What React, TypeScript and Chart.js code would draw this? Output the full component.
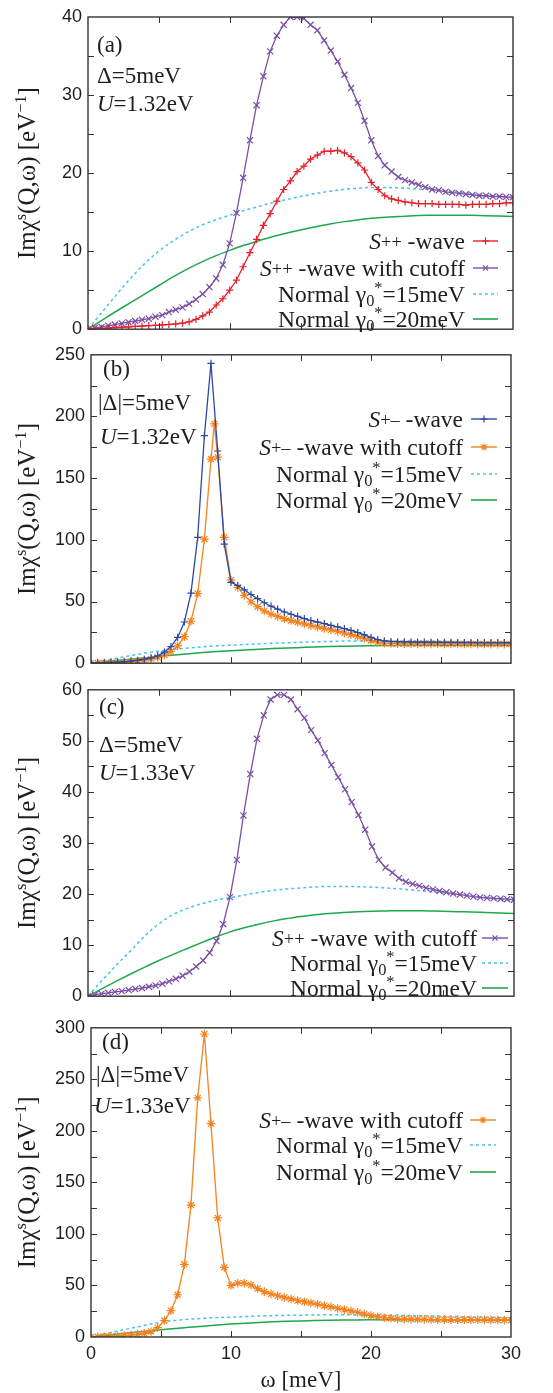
import React, { useEffect, useRef } from "react";
import { Chart, registerables } from "chart.js";

Chart.register(...registerables);

// ---------- data ----------
const omega = [
  0, 0.48, 0.95, 1.43, 1.9, 2.38, 2.86, 3.33, 3.81, 4.29,
  4.76, 5.24, 5.71, 6.19, 6.67, 7.14, 7.62, 8.1, 8.57, 9.05,
  9.52, 10.0, 10.48, 10.95, 11.43, 11.9, 12.38, 12.86, 13.33, 13.81,
  14.29, 14.76, 15.24, 15.71, 16.19, 16.67, 17.14, 17.62, 18.1, 18.57,
  19.05, 19.52, 20.0, 20.48, 20.95, 21.43, 21.9, 22.38, 22.86, 23.33,
  23.81, 24.29, 24.76, 25.24, 25.71, 26.19, 26.67, 27.14, 27.62, 28.1,
  28.57, 29.05, 29.52, 30.0,
];
const omegaNormal = [
  0, 1, 2, 3, 4, 5, 6, 7, 8, 9, 10, 11, 12, 13, 14, 15,
  16, 17, 18, 19, 20, 21, 22, 23, 24, 25, 26, 27, 28, 29, 30,
];
const omegaExtraPeakB = 8.81;

// (a) U = 1.32 eV, S++
const aSpp = [
  0, 0.05, 0.1, 0.15, 0.2, 0.25, 0.3, 0.35, 0.4, 0.45,
  0.5, 0.55, 0.6, 0.68, 0.78, 0.95, 1.25, 1.7, 2.2, 3.1,
  3.9, 5.0, 6.3, 8.0, 9.8, 11.5, 13.3, 14.8, 16.4, 17.9,
  19.0, 20.2, 20.9, 21.8, 22.3, 22.8, 22.8, 22.9, 22.6, 22.1,
  21.3, 20.4, 18.8, 17.9, 17.1, 16.7, 16.5, 16.3, 16.2, 16.1,
  16.1, 16.1, 16.0, 16.0, 16.0, 16.0, 15.9, 16.0, 16.0, 16.0,
  16.1, 16.1, 16.2, 16.2,
];
const aSppCutoff = [
  0, 0.15, 0.3, 0.45, 0.6, 0.75, 0.9, 1.05, 1.2, 1.35,
  1.6, 1.8, 2.2, 2.5, 2.8, 3.25, 3.8, 4.5, 5.4, 6.5,
  8.25, 11.0, 14.9, 19.4, 24.2, 28.7, 32.4, 35.6, 37.6, 39.0,
  40.0, 40.0, 39.8, 39.0, 38.3, 37.0, 35.7, 34.3, 32.6, 30.9,
  29.0, 26.7, 24.2, 22.2, 21.0, 20.2, 19.5, 19.1, 18.8, 18.5,
  18.2, 17.9, 17.8, 17.6, 17.5, 17.4, 17.3, 17.2, 17.1, 17.1,
  17.0, 17.0, 16.95, 16.9,
];
const normalU132G15 = [
  0, 2.2, 4.4, 6.5, 8.4, 10.0, 11.3, 12.4, 13.3, 14.0, 14.6,
  15.2, 15.7, 16.2, 16.6, 17.0, 17.35, 17.65, 17.9, 18.05, 18.15,
  18.15, 18.1, 18.0, 17.9, 17.75, 17.6, 17.4, 17.2, 17.0, 16.8,
];
const normalU132G20 = [
  0, 1.15, 2.3, 3.4, 4.5, 5.6, 6.7, 7.7, 8.6, 9.4, 10.1,
  10.75, 11.3, 11.85, 12.3, 12.7, 13.1, 13.45, 13.75, 14.0, 14.2,
  14.35, 14.45, 14.55, 14.6, 14.6, 14.6, 14.6, 14.55, 14.5, 14.45,
];

// (b) U = 1.32 eV, S+-
const bSpm = [
  0, 0.2, 0.4, 0.6, 0.9, 1.3, 1.8, 2.4, 3.2, 4.3,
  6.0, 9.0, 13.5, 20.9, 33.4, 56.8, 102, 184.5, 243, 172,
  96.5, 65.5, 63, 59.5, 55.7, 52.3, 49.0, 46.2, 43.8, 41.5,
  39.7, 37.9, 36.1, 34.6, 33.3, 32.0, 30.7, 29.4, 28.1, 26.6,
  24.9, 22.9, 20.9, 19.1, 18.1, 17.6, 17.4, 17.3, 17.2, 17.1,
  17.1, 17.0, 17.0, 16.9, 16.9, 16.8, 16.8, 16.8, 16.7, 16.7,
  16.6, 16.6, 16.6, 16.5,
];
// includes one extra point at omegaExtraPeakB (between 8.57 and 9.05)
const bSpmCutoff = [
  0, 0.1, 0.2, 0.4, 0.6, 0.9, 1.3, 1.8, 2.5, 3.5,
  4.8, 6.6, 9.5, 14.0, 21.5, 34.0, 56.5, 100.5, 165.5, 194,
  167, 102, 67.5, 61.5, 55, 49.8, 45.8, 42.4, 39.8, 37.9,
  36.1, 34.6, 33.2, 31.9, 30.6, 29.4, 28.2, 27.0, 25.8, 24.5,
  23.1, 21.7, 20.1, 18.4, 17.0, 16.3, 16.0, 15.9, 15.8, 15.8,
  15.7, 15.7, 15.7, 15.7, 15.6, 15.6, 15.6, 15.6, 15.6, 15.5,
  15.5, 15.5, 15.5, 15.5, 15.5,
];

// (c) U = 1.33 eV, S++
const cSppCutoff = [
  0, 0.3, 0.5, 0.65, 0.85, 1.0, 1.2, 1.4, 1.6, 1.85,
  2.1, 2.45, 2.9, 3.4, 4.0, 4.8, 5.8, 7.0, 8.5, 10.8,
  14.1, 19.4, 26.7, 35.4, 43.5, 50.4, 55.0, 58.1, 59.0, 59.0,
  58.1, 56.2, 54.5, 52.1, 50.1, 47.6, 45.3, 42.9, 40.5, 38.0,
  35.5, 32.6, 29.3, 26.7, 25.2, 24.2, 23.1, 22.4, 22.0, 21.6,
  21.2, 20.9, 20.6, 20.35, 20.1, 19.9, 19.7, 19.5, 19.35, 19.25,
  19.15, 19.1, 19.0, 18.9,
];
const normalU133G15 = [
  0, 3.1, 6.1, 8.9, 11.8, 14.2, 16.0, 17.2, 18.1, 18.8, 19.3,
  19.8, 20.3, 20.7, 21.0, 21.2, 21.4, 21.5, 21.5, 21.45, 21.35,
  21.2, 21.0, 20.75, 20.5, 20.2, 19.9, 19.6, 19.3, 19.0, 18.6,
];
const normalU133G20 = [
  0, 1.5, 2.95, 4.35, 5.7, 7.0, 8.2, 9.35, 10.5, 11.6, 12.6,
  13.4, 14.1, 14.7, 15.2, 15.6, 15.95, 16.2, 16.4, 16.55, 16.65,
  16.7, 16.75, 16.75, 16.7, 16.65, 16.55, 16.5, 16.4, 16.3, 16.2,
];

// (d) U = 1.33 eV, S+-
const dSpmCutoff = [
  0, 0.2, 0.4, 0.7, 1.0, 1.4, 1.9, 2.6, 3.6, 5.3,
  9.0, 16.0, 25.5, 41, 70.5, 128, 232, 294, 207, 115.5,
  67.5, 50, 52.3, 52.3, 50.5, 47, 44, 41.8, 40, 38.4,
  36.9, 35.4, 34.2, 33.0, 31.7, 30.4, 29.2, 27.8, 26.6, 25.3,
  23.9, 22.3, 20.8, 19.6, 18.7, 18.2, 17.6, 17.4, 17.3, 17.2,
  17.1, 17.0, 16.9, 16.9, 16.8, 16.8, 16.7, 16.7, 16.6, 16.6,
  16.5, 16.5, 16.4, 16.3,
];

const omegaB = [...omega.slice(0, 19), omegaExtraPeakB, ...omega.slice(19)];

// ---------- styles ----------
const COLORS = {
  red: "#e4202a",
  purple: "#7a4fa6",
  blue: "#2c4aa0",
  orange: "#f5821f",
  cyan: "#45c3f0",
  green: "#1ea84b",
  axis: "#333333",
  text: "#1e1e1e",
};
const SERIF = '"Liberation Serif", "Times New Roman", serif';
const SANS = '"Liberation Sans", Arial, sans-serif';
const LEGEND_SIZE = 23.5;
const NOTE_SIZE = 23;
const YTITLE_SIZE = 25;

type Seg = { t: string; k?: number; dy?: number; it?: boolean };

const spp: Seg[] = [{ t: "S", it: true }, { t: "++", k: 0.78, dy: -0.04 }, { t: " -wave" }];
const sppCut: Seg[] = [{ t: "S", it: true }, { t: "++", k: 0.78, dy: -0.04 }, { t: " -wave with cutoff" }];
const spm: Seg[] = [{ t: "S", it: true }, { t: "+\u2013", k: 0.78, dy: -0.04 }, { t: " -wave" }];
const spmCut: Seg[] = [{ t: "S", it: true }, { t: "+\u2013", k: 0.78, dy: -0.04 }, { t: " -wave with cutoff" }];
const normalLbl = (g: string): Seg[] => [
  { t: "Normal \u03b3" },
  { t: "0", k: 0.7, dy: 0.2 },
  { t: "*", k: 0.7, dy: -0.36 },
  { t: "=" + g + "meV" },
];
const yTitle: Seg[] = [
  { t: "Im\u03c7" },
  { t: "s", k: 0.65, dy: -0.36 },
  { t: "(Q,\u03c9) [eV" },
  { t: "\u22121", k: 0.65, dy: -0.36 },
  { t: "]" },
];

function fontOf(size: number, it?: boolean) {
  return `${it ? "italic " : ""}${size}px ${SERIF}`;
}
function richWidth(ctx: CanvasRenderingContext2D, segs: Seg[], size: number) {
  let w = 0;
  for (const s of segs) {
    ctx.font = fontOf(size * (s.k ?? 1), s.it);
    w += ctx.measureText(s.t).width;
  }
  return w;
}
function drawRich(
  ctx: CanvasRenderingContext2D,
  segs: Seg[],
  x: number,
  baseline: number,
  size: number,
  align: "left" | "right" | "center"
) {
  const w = richWidth(ctx, segs, size);
  let cx = align === "right" ? x - w : align === "center" ? x - w / 2 : x;
  ctx.textAlign = "left";
  ctx.textBaseline = "alphabetic";
  for (const s of segs) {
    ctx.font = fontOf(size * (s.k ?? 1), s.it);
    ctx.fillText(s.t, cx, baseline + (s.dy ?? 0) * size);
    cx += ctx.measureText(s.t).width;
  }
}

type Marker = "cross" | "crossRot" | "star" | null;
function drawMarker(ctx: CanvasRenderingContext2D, m: Marker, x: number, y: number, r: number) {
  if (!m) return;
  ctx.beginPath();
  if (m === "cross" || m === "star") {
    ctx.moveTo(x - r, y);
    ctx.lineTo(x + r, y);
    ctx.moveTo(x, y - r);
    ctx.lineTo(x, y + r);
  }
  if (m === "crossRot" || m === "star") {
    const d = r * 0.75;
    ctx.moveTo(x - d, y - d);
    ctx.lineTo(x + d, y + d);
    ctx.moveTo(x - d, y + d);
    ctx.lineTo(x + d, y - d);
  }
  ctx.stroke();
}
const markerRadius = (m: Marker) => (m === "cross" ? 3.6 : m ? 4.3 : 0);

type LegendItem = { segs: Seg[]; color: string; dash?: number[]; marker: Marker; width: number };
type Note = { segs: Seg[]; x: number; baseline: number };
type SeriesDef = {
  label: string;
  xs: number[];
  ys: number[];
  color: string;
  marker: Marker;
  dash?: number[];
  smooth?: boolean;
};
type PanelCfg = {
  top: number;
  height: number;
  plotTop: number;
  plotBottom: number;
  left: number;
  right: number;
  yMax: number;
  yStep: number;
  yMinor: number;
  xLabels: boolean;
  series: SeriesDef[];
  legend: LegendItem[];
  legendRows: number[];
  legendTextRight: number;
  sampleX1: number;
  sampleX2: number;
  notes: Note[];
};

const mk = (label: string, xs: number[], ys: number[], color: string, marker: Marker): SeriesDef => ({
  label, xs, ys, color, marker,
});
const nm = (label: string, ys: number[], color: string, dash?: number[]): SeriesDef => ({
  label, xs: omegaNormal, ys, color, marker: null, dash, smooth: true,
});

const legendNormals: LegendItem[] = [
  { segs: normalLbl("15"), color: COLORS.cyan, dash: [3, 3], marker: null, width: 1.6 },
  { segs: normalLbl("20"), color: COLORS.green, marker: null, width: 1.6 },
];

const panels: PanelCfg[] = [
  {
    top: 0, height: 346, plotTop: 17, plotBottom: 336, left: 88, right: 513,
    yMax: 40, yStep: 10, yMinor: 5, xLabels: false,
    series: [
      mk("S++ -wave", omega, aSpp, COLORS.red, "cross"),
      mk("S++ -wave with cutoff", omega, aSppCutoff, COLORS.purple, "crossRot"),
      nm("Normal 15", normalU132G15, COLORS.cyan, [3, 3]),
      nm("Normal 20", normalU132G20, COLORS.green),
    ],
    legend: [
      { segs: spp, color: COLORS.red, marker: "cross", width: 1.4 },
      { segs: sppCut, color: COLORS.purple, marker: "crossRot", width: 1.4 },
      ...legendNormals,
    ],
    legendRows: [241, 268, 294, 319],
    legendTextRight: 465, sampleX1: 473, sampleX2: 498,
    notes: [
      { segs: [{ t: "(a)" }], x: 97, baseline: 52 },
      { segs: [{ t: "\u0394=5meV" }], x: 97, baseline: 83 },
      { segs: [{ t: "U", it: true }, { t: "=1.32eV" }], x: 97, baseline: 111 },
    ],
  },
  {
    top: 338, height: 342, plotTop: 351, plotBottom: 670, left: 91, right: 511,
    yMax: 250, yStep: 50, yMinor: 25, xLabels: false,
    series: [
      mk("S+- -wave", omega, bSpm, COLORS.blue, "cross"),
      mk("S+- -wave with cutoff", omegaB, bSpmCutoff, COLORS.orange, "star"),
      nm("Normal 15", normalU132G15, COLORS.cyan, [3, 3]),
      nm("Normal 20", normalU132G20, COLORS.green),
    ],
    legend: [
      { segs: spm, color: COLORS.blue, marker: "cross", width: 1.4 },
      { segs: spmCut, color: COLORS.orange, marker: "star", width: 1.4 },
      ...legendNormals,
    ],
    legendRows: [419, 447, 474, 500],
    legendTextRight: 463, sampleX1: 471, sampleX2: 497,
    notes: [
      { segs: [{ t: "(b)" }], x: 103, baseline: 376 },
      { segs: [{ t: "|\u0394|=5meV" }], x: 98, baseline: 410 },
      { segs: [{ t: "U", it: true }, { t: "=1.32eV" }], x: 100, baseline: 444 },
    ],
  },
  {
    top: 673, height: 340, plotTop: 685, plotBottom: 1003, left: 88, right: 514,
    yMax: 60, yStep: 10, yMinor: 5, xLabels: false,
    series: [
      mk("S++ -wave with cutoff", omega, cSppCutoff, COLORS.purple, "crossRot"),
      nm("Normal 15", normalU133G15, COLORS.cyan, [3, 3]),
      nm("Normal 20", normalU133G20, COLORS.green),
    ],
    legend: [
      { segs: sppCut, color: COLORS.purple, marker: "crossRot", width: 1.4 },
      ...legendNormals,
    ],
    legendRows: [938, 963, 988],
    legendTextRight: 477, sampleX1: 482, sampleX2: 508,
    notes: [
      { segs: [{ t: "(c)" }], x: 99, baseline: 714 },
      { segs: [{ t: "\u0394=5meV" }], x: 99, baseline: 752 },
      { segs: [{ t: "U", it: true }, { t: "=1.33eV" }], x: 99, baseline: 780 },
    ],
  },
  {
    top: 1011, height: 382, plotTop: 1023, plotBottom: 1337, left: 91, right: 511,
    yMax: 300, yStep: 50, yMinor: 25, xLabels: true,
    series: [
      mk("S+- -wave with cutoff", omega, dSpmCutoff, COLORS.orange, "star"),
      nm("Normal 15", normalU133G15, COLORS.cyan, [3, 3]),
      nm("Normal 20", normalU133G20, COLORS.green),
    ],
    legend: [
      { segs: spmCut, color: COLORS.orange, marker: "star", width: 1.4 },
      ...legendNormals,
    ],
    legendRows: [1120, 1145, 1172],
    legendTextRight: 463, sampleX1: 470, sampleX2: 496,
    notes: [
      { segs: [{ t: "(d)" }], x: 102, baseline: 1049 },
      { segs: [{ t: "|\u0394|=5meV" }], x: 96, baseline: 1082 },
      { segs: [{ t: "U", it: true }, { t: "=1.33eV" }], x: 94, baseline: 1113 },
    ],
  },
];

function Panel({ cfg }: { cfg: PanelCfg }) {
  const ref = useRef<HTMLCanvasElement>(null);
  useEffect(() => {
    const canvas = ref.current;
    if (!canvas) return;
    const off = cfg.top;
    const decor = {
      id: "decor" + cfg.top,
      afterDatasetsDraw(chart: any) {
        const { ctx, chartArea: ca, scales } = chart;
        ctx.save();
        ctx.strokeStyle = COLORS.axis;
        ctx.lineWidth = 1;
        ctx.setLineDash([]);
        const tl = 6;
        ctx.beginPath();
        for (let v = 5; v < 30; v += 5) {
          const x = Math.round(scales.x.getPixelForValue(v)) + 0.5;
          ctx.moveTo(x, ca.bottom);
          ctx.lineTo(x, ca.bottom - tl);
          ctx.moveTo(x, ca.top);
          ctx.lineTo(x, ca.top + tl);
        }
        for (let v = cfg.yMinor; v < cfg.yMax; v += cfg.yMinor) {
          const y = Math.round(scales.y.getPixelForValue(v)) + 0.5;
          ctx.moveTo(ca.left, y);
          ctx.lineTo(ca.left + tl, y);
          ctx.moveTo(ca.right, y);
          ctx.lineTo(ca.right - tl, y);
        }
        ctx.stroke();
        ctx.lineWidth = 1.4;
        ctx.strokeRect(ca.left, ca.top, ca.right - ca.left, ca.bottom - ca.top);
        ctx.restore();
      },
      afterDraw(chart: any) {
        const { ctx, chartArea: ca } = chart;
        ctx.save();
        ctx.fillStyle = COLORS.text;
        // y-axis title
        ctx.save();
        ctx.translate(27, (ca.top + ca.bottom) / 2);
        ctx.rotate(-Math.PI / 2);
        drawRich(ctx, yTitle, 0, 8, YTITLE_SIZE, "center");
        ctx.restore();
        // x-axis title
        if (cfg.xLabels) {
          drawRich(ctx, [{ t: "\u03c9 [meV]" }], (ca.left + ca.right) / 2, 1387 - off, 23, "center");
        }
        // notes
        for (const n of cfg.notes) {
          drawRich(ctx, n.segs, n.x, n.baseline - off, NOTE_SIZE, "left");
        }
        // legend
        cfg.legend.forEach((item, i) => {
          const cy = cfg.legendRows[i] - off;
          ctx.fillStyle = COLORS.text;
          drawRich(ctx, item.segs, cfg.legendTextRight, cy + 7.5, LEGEND_SIZE, "right");
          ctx.strokeStyle = item.color;
          ctx.lineWidth = item.width;
          ctx.setLineDash(item.dash ?? []);
          ctx.beginPath();
          ctx.moveTo(cfg.sampleX1, cy);
          ctx.lineTo(cfg.sampleX2, cy);
          ctx.stroke();
          ctx.setLineDash([]);
          ctx.lineWidth = 1.2;
          drawMarker(ctx, item.marker, (cfg.sampleX1 + cfg.sampleX2) / 2, cy, 3.4);
        });
        ctx.restore();
      },
    };

    const datasets = cfg.series.map((s, idx) => ({
      label: s.label,
      data: s.ys.map((y, i) => ({ x: s.xs[i], y })),
      borderColor: s.color,
      backgroundColor: s.color,
      borderWidth: s.smooth ? 1.5 : 1.3,
      borderDash: s.dash ?? [],
      pointRadius: markerRadius(s.marker),
      pointStyle: s.marker ?? "circle",
      pointBorderColor: s.color,
      pointBorderWidth: 1.2,
      tension: 0,
      cubicInterpolationMode: s.smooth ? "monotone" : "default",
      fill: false,
      order: idx,
    }));

    const tickFont = { family: SANS, size: 18 };
    const chart = new Chart(canvas, {
      type: "line",
      data: { datasets: datasets as any },
      options: {
        animation: false,
        responsive: false,
        maintainAspectRatio: false,
        parsing: false as any,
        normalized: true,
        layout: {
          padding: { top: cfg.plotTop - cfg.top, right: 553 - cfg.right, left: 0, bottom: 0 },
        },
        plugins: {
          legend: { display: false },
          tooltip: { enabled: false },
          title: { display: false },
        },
        scales: {
          x: {
            type: "linear",
            min: 0,
            max: 30,
            ticks: {
              display: cfg.xLabels,
              stepSize: 10,
              padding: 6,
              font: tickFont,
              color: COLORS.text,
              maxRotation: 0,
            },
            grid: { display: false, drawTicks: false },
            border: { display: false },
            afterFit: (s: any) => {
              s.height = cfg.top + cfg.height - cfg.plotBottom;
            },
          },
          y: {
            type: "linear",
            min: 0,
            max: cfg.yMax,
            ticks: { stepSize: cfg.yStep, padding: 6, font: tickFont, color: COLORS.text },
            grid: { display: false, drawTicks: false },
            border: { display: false },
            afterFit: (s: any) => {
              s.width = cfg.left;
            },
          },
        },
      },
      plugins: [decor],
    });
    return () => chart.destroy();
  }, [cfg]);
  return (
    <canvas
      ref={ref}
      width={553}
      height={cfg.height}
      style={{ position: "absolute", left: 0, top: cfg.top, width: 553, height: cfg.height }}
    />
  );
}

export default function App() {
  return (
    <div
      style={{
        position: "absolute",
        left: 0,
        top: 0,
        width: 553,
        height: 1393,
        background: "#ffffff",
        overflow: "hidden",
      }}
    >
      {panels.map((p) => (
        <Panel key={p.top} cfg={p} />
      ))}
    </div>
  );
}
